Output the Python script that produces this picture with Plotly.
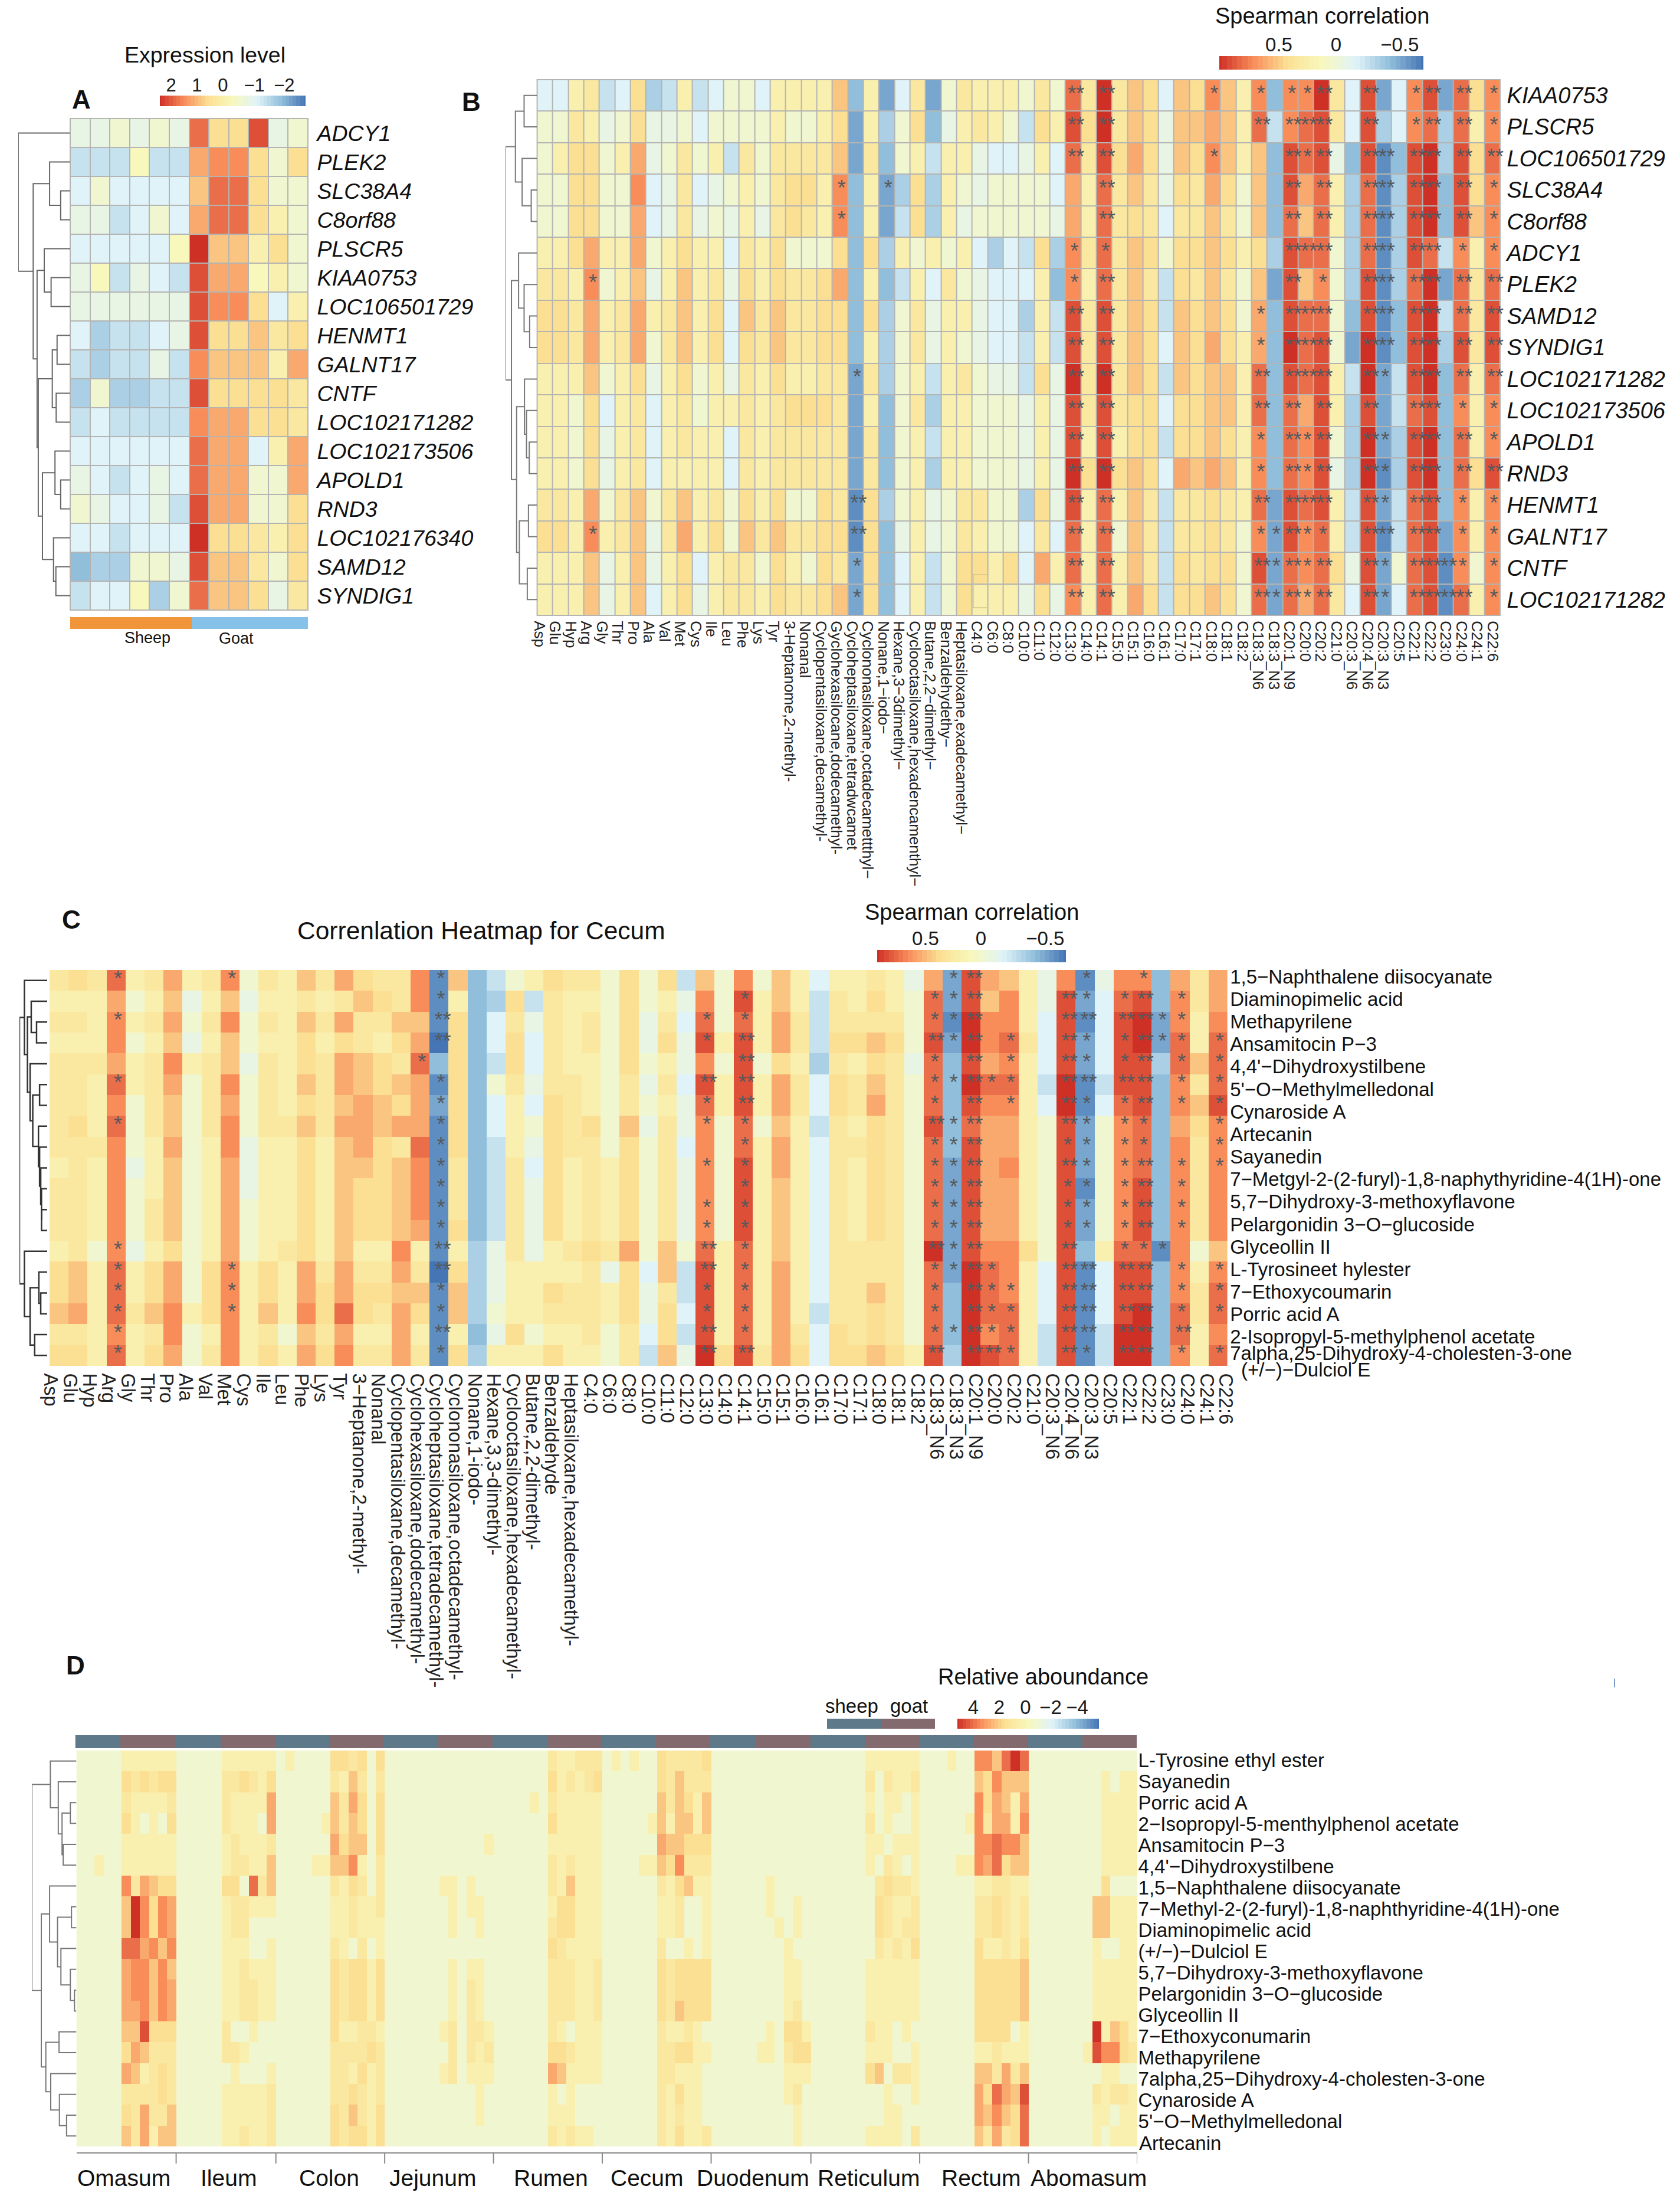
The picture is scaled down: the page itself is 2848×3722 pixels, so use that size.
import numpy as np
import plotly.graph_objects as go

W, H = 2848, 3722
FONT = "Liberation Sans"

# ---------- shared colour scale: cell strings hold digit 0-9 (warm) or a-i (cool, -1..-9)
COLORS = [[0, "#4575B4"], [1/6, "#91BFDB"], [2/6, "#E0F3F8"], [0.5, "#F8F8BC"],
          [4/6, "#FBE094"], [5/6, "#F88D5A"], [1, "#CF3026"]]

# ---------- Panel A
GENES_A = ["ADCY1", "PLEK2", "SLC38A4", "C8orf88", "PLSCR5", "KIAA0753", "LOC106501729", "HENMT1",
           "GALNT17", "CNTF", "LOC102171282", "LOC102173506", "APOLD1", "RND3", "LOC102176340",
           "SAMD12", "SYNDIG1"]
VALUES_A = ["bbabab7338ba", "ddd0dd5663a3", "cacccc4773aa", "bbdcac57731a", "ccccc094413a",
            "b0dbcd85501a", "bbbbbb8663c1", "ceddcb833423", "deddbd644415", "eaeedd833332",
            "dcdddd655332", "cccccc755c15", "bcdcbc755aa5", "abccbd855aa3", "ccdccc933213",
            "feeaab8442a3", "dcc0ea7443b2"]
SPECIES_A = [0, 1]
TREE_A = (174, 0, (124, (69, 1, (32, 2, 3)),
                   (111, (87, 4, (64, 5, 6)),
                    (107, (60, (44, 7, 8), (47, 9, 10)),
                     (93, (51, 11, (32, 12, 13)), (56, 14, (48, 15, 16)))))))

# ---------- Panel B
GENES_B = ["KIAA0753", "PLSCR5", "LOC106501729", "SLC38A4", "C8orf88", "ADCY1", "PLEK2", "SAMD12",
           "SYNDIG1", "LOC102171282", "LOC102173506", "APOLD1", "RND3", "HENMT1", "GALNT17", "CNTF",
           "LOC102171282"]
FATTY = ["C4:0", "C6:0", "C8:0", "C10:0", "C11:0", "C12:0", "C13:0", "C14:0", "C14:1", "C15:0", "C15:1",
         "C16:0", "C16:1", "C17:0", "C17:1", "C18:0", "C18:1", "C18:2", "C18:3_N6", "C18:3_N3", "C20:1_N9",
         "C20:0", "C20:2", "C21:0", "C20:3_N6", "C20:4_N6", "C20:3_N3", "C20:5", "C22:1", "C22:2", "C23:0",
         "C24:0", "C24:1", "C22:6"]
AMINO = ["Asp", "Glu", "Hyp", "Arg", "Gly", "Thr", "Pro", "Ala", "Val", "Met", "Cys", "Ile", "Leu", "Phe",
         "Lys", "Tyr"]
VOLATILE_B = ["3-Heptanome,2-methyl-", "Nonanal", "Cyclopentasiloxane,decamethyl-",
              "Gyclohexasilocane,dodecamethyl-", "Cycloheptasiloxane,tetradwcamet",
              "Cyclononasiloxane,octadecamettthyl−", "Nonane,1−iodo−", "Hexane,3−3dimethyl−",
              "Cyclooctasiloxane,hexadencamenthyl−", "Butane,2,2−dimethyl−", "Benzaldehydethy−",
              "Heptasiloxane,exadecamethyl−"]
COLS_B = AMINO + VOLATILE_B + FATTY
VALUES_B = [
    "cc12dc3ed1 dcaac11114 f1gc2ga211 1a2a 72924 3c436 416f6 692c8 gc68g 736",
    "aa21ba3bba caaaa1aa13 g1ea3fb121 ad31 83924 3b445 417d6 782c8 ec67e 716",
    "a133a15ba2 a1d2a22224 g2fa1d11bc cb1c 72835 3b436 414f8 78bf8 hf89e 837",
    "aa33aa6cb2 cba1a23316 f1ge3e1aba aaac 51724 2b325 3a4f8 571e7 he89f 836",
    "aa33aa5cb2 bab1b23216 f1gd3e1baa aaab 51723 2c224 2a4f7 471e7 he89f 846",
    "1135115a13 11c213aaa3 f3e1a1a1ce cd3e 62724 3a334 313e8 77ae7 he87d 616",
    "2216a14b14 12b3132235 f1fd1c2abc cc1f 61724 2d324 2a4g8 46ae8 he79g 727",
    "3325125124 13c4242233 f3ea2b11bc ce1d 82824 3d434 3a5f8 77af8 hf89d 728",
    "3325125a24 13c3242233 f1ea2b1abc cd1d 82824 3c435 315f9 78ag9 hf89e 828",
    "1114a13b13 a1b2131122 g2ea1d12ab bd3b 92924 3d434 417f8 781d9 gd89f 717",
    "11a3c12c12 a112123332 g1fa2e11aa ab1b 82823 3c334 417f7 581e8 gd78f 616",
    "11a3b12c12 11c2122222 g2fa1d11aa ab1b 81813 3d334 316f7 68ae9 ge89f 716",
    "11a3b12c11 11c2122222 g2fa1e11aa ab1b 93934 3c545 416f7 68be9 he89f 738",
    "2215a24a24 12a313aa32 h3ea1ba22a ae3b 81714 2d223 217g8 781d8 gd78f 616",
    "3316124b25 13a4242233 h3fb1ba21a ac2c 717a4 2d223 2a6g8 671d8 hd78g 616",
    "1114b14b13 c122a31a32 g3fc1da331 3c51 71714 2d323 3a8g7 673b8 ga78h 6a6",
    "1114b14c13 b122132234 g3fc1da311 1b3b 61715 3d334 3a7g7 572c8 gc78h 716",
]
STARS_LEFT_B = {3: {19: 1, 22: 1}, 4: {19: 1}, 6: {3: 1}, 9: {20: 1}, 13: {20: 2}, 14: {3: 1, 20: 2},
                15: {20: 1}, 16: {20: 1}}
STARS_RIGHT_B = [
    "2.2......1..1.112..2..12.2.1", "2.2.........2.222..2..12.2.1", "2.2......1....212..22.22.2.2",
    "..2...........2.2..22.22.2.1", "..2...........2.2..22.22.2.1", "1.1...........222..22.22.1.1",
    "1.2...........2.1..22.22.2.2", "2.2.........1.222..22.22.2.2", "2.2.........1.222..22.22.2.2",
    "2.2.........2.222..21.22.2.2", "2.2.........2.2.2..2..22.1.1", "2.2.........1.212..21.22.2.1",
    "2.2.........1.212..21.22.2.2", "2.2.........2.222..21.22.1.1", "2.2.........11211..22.22.1.1",
    "2.2.........21212..21.2221.1", "2.2.........21212..21.2222.1"]
TREE_B = (80, (55, (33, 0, 1), (38, 2, (15, 3, 4))),
          (65, (47, 5, (33, 6, (19, 7, 8))),
           (52, (32, 9, (27, 10, (20, 11, 12))),
            (45, (22, 13, 14), (25, 15, 16)))))

# ---------- Panel C
METAB_C = ["1,5−Naphthalene diisocyanate", "Diaminopimelic acid", "Methapyrilene", "Ansamitocin P−3",
           "4,4'−Dihydroxystilbene", "5'−O−Methylmelledonal", "Cynaroside A", "Artecanin", "Sayanedin",
           "7−Metgyl-2-(2-furyl)-1,8-naphythyridine-4(1H)-one", "5,7−Dihydroxy-3-methoxyflavone",
           "Pelargonidin 3−O−glucoside", "Glyceollin II", "L-Tyrosineet hylester", "7−Ethoxycoumarin",
           "Porric acid A", "2-Isopropyl-5-methylphenol acetate", "7alpha,25-Dihydroxy-4-cholesten-3-one",
           "(+/−)−Dulciol E"]
VOLATILE_C = ["3−Heptanone,2-methyl-", "Nonanal", "Cyclopentasiloxane,decamethyl-",
              "Cyclohexasiloxane,dodecamethyl-", "Cycloheptasiloxane,tetradecamethyl-",
              "Cyclononasiloxane,octadecamethyl-", "Nonane,1-iodo-", "Hexane,3,3-dimethyl-",
              "Cyclooctasiloxane,hexadecamethyl-", "Butane,2,2-dimethyl-", "Benzaldehyde",
              "Heptasiloxane,hexadecamethyl-"]
COLS_C = AMINO + VOLATILE_C + FATTY
VALUES_C = [
    "2327125126 a214253226 h4fda132 2a3a3d4a6a 41c1121b5g 8541b6hb66 f525",
    "1115a14b14 b112124326 h1fe3d21 1a3a1b6a81 41d2131a7g 8461b8gc78 f625",
    "2216125a26 a214252244 h3fc2b21 2a3b2c7a71 52d2222a7h 9661c8hc89 g616",
    "1116a14b14 a113132135 i3fc3c21 2a3b3b8181 52d3343a8g 9672c8gc89 g717",
    "2225126124 b213254327 f3fd3c21 1a3a1b6a8a 31e2132b7f 8561c8gc88 e747",
    "2217125a26 a214254345 h3fa2b22 1a2b2c8181 52c3242a7f 9771d9hd88 f627",
    "2216a24a25 a213245435 g3fc1c32 1a2a1b7181 52c3252a7f 8661c9hc78 f648",
    "2317a24a26 a224255455 h3fc1a32 3a4b2b6a7a 41d2132a8f 7551a8ga67 f536",
    "2226a15a16 b113145327 h3fd1b32 2a3a2c6a71 51c2232a7f 8551a8ga67 f626",
    "1216b14a15 b113144346 h2fd2c31 213a2b6a81 51c2132a7g 8561a8ga67 f626",
    "2216a14a15 b113143346 h2fd2b31 213a2b6a81 41c2132a7g 8551a8ha68 f626",
    "2216a24a15 a113143346 h2fd2b31 213a2b6a81 41c2132a7g 8551a8ga68 f626",
    "2216a24a15 a113143345 h3fd2b31 213a2b6a81 41c2132a7g 8551a8ga68 f626",
    "12a6b13a15 a123141161 h1eb2b12 325a4a7171 41c2222a9g 8663a8f177 h6a4",
    "3417135a36 1315252252 i3eb1111 2b3c4d8171 51c2222a7g 9761c8hc88 f616",
    "3417135a36 1315353344 h4eb1132 213b2d8171 51c2242a7f 9761c8hc88 f627",
    "4517246136 1416373253 h4ea1122 213b3c8171 51d2232a7f 9771c8hc89 f727",
    "2216126a16 12a4251151 h1fb3a11 2a2c3d8171 52c3232a7f 9671d8hd99 f716",
    "3317135a26 1315362252 h3e11131 1a2d4b9382 53c334318e 9871d8hd99 f617",
]
STARS_LEFT_C = {0: {3: 1, 9: 1, 20: 1}, 1: {20: 1}, 2: {3: 1, 20: 2}, 3: {20: 2}, 4: {19: 1},
                5: {3: 1, 20: 1}, 6: {20: 1}, 7: {3: 1, 20: 1}, 8: {20: 1}, 9: {20: 1}, 10: {20: 1},
                11: {20: 1}, 12: {20: 1}, 13: {3: 1, 20: 2}, 14: {3: 1, 9: 1, 20: 2},
                15: {3: 1, 9: 1, 20: 1}, 16: {3: 1, 9: 1, 20: 1}, 17: {3: 1, 20: 2}, 18: {3: 1, 20: 1}}
STARS_RIGHT_C = [
    ".............12.....1..1....", "..1.........112....21.12.1..", "1.1.........112....22.2211..",
    "1.2.........212.1..21.1211.1", "..2.........1.2.1..21.12.1.1", "2.2.........11211..22.22.1.1",
    "1.2.........1.2.1..21.12.1.1", "1.1.........212....21.11...1", "..1.........112....11.11...1",
    "1.1.........112....21.12.1.1", "..1.........112....11.12.1..", "1.1.........112....11.12.1..",
    "1.1.........112....11.12.1..", "2.1.........212....2..111...", "2.1.........1121...22.22.1.1",
    "1.1.........1.211..22.22.1.1", "1.1.........1.211..22.22.1.1", "2.1.........11211..22.22.2..",
    "2.2.........2.221..21.22.1.1"]
TREE_C = (73, (60, 0, (52, (42, 1, (28, 2, 3)),
                       (45, 4, (38, (20, 5, 6), (23, 7, (20, 8, (17, 9, (15, 10, (15, 11, 12))))))))),
          (60, 13, (45, (22, 14, (17, 15, 16)), (33, 17, 18))))
LABEL_PX_C = [1655, 1693, 1731, 1769, 1807, 1846, 1884, 1922, 1960, 1998, 2036, 2075, 2113, 2151, 2189,
              2227, 2265, 2293]

# ---------- Panel D
METAB_D = ["L-Tyrosine ethyl ester", "Sayanedin", "Porric acid A", "2−Isopropyl-5-menthylphenol acetate",
           "Ansamitocin P−3", "4,4'−Dihydroxystilbene", "1,5−Naphthalene diisocyanate",
           "7−Methyl-2-(2-furyl)-1,8-naphthyridine-4(1H)-one", "Diaminopimelic acid", "(+/−)−Dulciol E",
           "5,7−Dihydroxy-3-methoxyflavone", "Pelargonidin 3−O−glucoside", "Glyceollin II",
           "7−Ethoxyconumarin", "Methapyrilene", "7alpha,25−Dihydroxy-4-cholesten-3-one", "Cynaroside A",
           "5'−O−Methylmelledonal", "Artecanin"]
TISSUES = ["Omasum", "Ileum", "Colon", "Jejunum", "Rumen", "Cecum", "Duodenum", "Reticulum", "Rectum", "Abomasum"]
SAMPLES_SHEEP = [5, 5, 6, 6, 6, 6, 5, 6, 6, 6]
SAMPLES_GOAT = [6, 6, 6, 6, 6, 6, 6, 6, 6, 6]
VALUES_D = [
    "aaaaa 111111 aaaaa 111111 a1aaaa 332 3a3 aaaaaa aaaaaa aaaaaa 211222 a1a1aa 322223 aaaaa aaaaaa aaaaaa 111111 aaa1aa 664797 aaaaaa aaaaaa",
    "aaaaa 323233 aaaaa 223213 aaaaaa 214 2a2 aaaaaa aaaaaa aaaaaa 312123 aaaaaa 324222 aaaaa aaaaaa aaaaaa 2a2112 aaaaaa 436444 aaaaaa aa1a11",
    "aaaaa 211112 aaaaa 211115 aaaaaa 425 3a3 aaaaaa aaaaaa aaaa1a 211111 aaaaaa 424314 aaaaa aaaaaa aaaaaa 1a11a1 aaaaaa 635415 aaaaaa aa1111",
    "aaaaa 31a1a3 aaaaa 2111a5 aaaaa1 424 3a3 aaaaaa aaaaaa aaaaaa 311111 aaaaa1 414414 aaaaa aaaaaa aaaaaa 2a1aa1 aaaaa1 625516 aaaaaa aa1111",
    "aaaaa 111111 aaaaa 121112 aaaaaa 534 4a3 aaaaaa aaaaa1 aaaaaa 111111 aaaaaa 544333 aaaaa aaaaaa aaaaaa 11a111 aaaaaa 667664 aaaaaa aa1111",
    "aa1aa 111111 aaaaa 122114 aaaa11 446 1a2 aaaaaa aaaaaa aaaaaa 212111 aaaa11 436222 aaaaa aaaaaa aaaaaa 1a21a1 aaaa11 657344 aaaaaa aa1111",
    "aaaaa 625433 aaaaa 33a724 aaaaaa 213 2a2 aaaaaa 11a1aa aaaaaa 214111 aaaaaa 213411 aaaaa a1aaaa aaaaaa a23221 aaaaaa 112211 aaaaaa aa3aaa",
    "aaaaa 496365 aaaaa 122111 aaaaaa 112 112 aaaaaa a1a11a aaaaaa 133111 aaaaaa 112aa1 aaaaa a1aa1a aaaaaa a32112 aaaaaa 223212 aaaaaa a44111",
    "aaaaa 496365 aaaaa 122aaa aaaaaa 112 111 aaaaaa a1aa1a aaaaaa 233111 aaaaaa 112aa1 aaaaa aa1a1a aaaaaa a32122 aaaaaa 223212 aaaaaa a44111",
    "aaaaa 775646 aaaaa 111aa1 aaaaaa 21a 2a1 aaaaaa aaaaaa aaaaaa 321111 aaaaaa 2aa1a1 aaaaa aaa1aa aaaaaa a21213 aaaaaa 311213 aaaaaa a1aa11",
    "aaaaa 566464 aaaaa 112111 aaaaaa 323 313 aaaaaa a1a11a aaaaaa 222112 aaaaaa 323333 aaaaa aaa11a aaaaaa 111111 aaaaaa 333334 aaaaaa a11111",
    "aaaaa 566465 aaaaa 112211 aaaaaa 323 313 aaaaaa a1a21a aaaaaa 222112 aaaaaa 323333 aaaaa aaa11a aaaaaa 111111 aaaaaa 333334 aaaaaa a11111",
    "aaaaa 556465 aaaaa 112211 aaaaaa 323 313 aaaaaa a1a21a aaaaaa 222112 aaaaaa 324333 aaaaa aaa12a aaaaaa 111111 aaaaaa 333334 aaaaaa a11111",
    "aaaaa 448333 aaaaa 2aa1aa aaaaaa 311 221 aaaaaa 12a221 aaaaaa 21a111 aaaaaa 21121a aaaaa a1a331 aaaaaa 211a1a aaaaaa 3333a1 aaaaaa a91431",
    "aaaaa 354222 aaaaa 221aaa aaaaaa 222 232 aaaaaa a2a212 aaaaaa 332111 aaaaaa 223311 aaaaa 11a233 aaaaaa 111aa1 aaaaaa 112111 aaaaaa 186632",
    "aaaaa 541232 aaaaa a1aaa1 aaaaaa 221 312 aaaaaa 12a111 aaaaaa 541111 aaaaaa 22111a aaaaa aaa111 aaaaaa 34a221 aaaaaa 442524 aaaaaa aa11aa",
    "aaaaa 222232 aaaaa 111112 aaaaaa 223 212 aaaaaa aaaa1a aaaaaa 1a1aaa aaaaaa 21311a aaaaa aaa12a aaaaaa aa1aa1 aaaaaa 537548 aaaaaa a21221",
    "aaaaa 325224 aaaaa 111112 aaaaaa 324 213 aaaaaa aaaa1a aaaaaa 111aaa aaaaaa 21211a aaaaa aaaa1a aaaaaa aa11aa aaaaaa 546437 aaaaaa a11a11",
    "aaaaa 425144 aaaaa 112112 aaaaaa 323 313 aaaaaa aaaaaa aaaaaa 21211a aaaaaa 213112 aaaaa aaaa1a aaaaaa 1111a2 aaaaaa 425237 aaaaaa a1a111",
]
TREE_D = (118, (69, 0, (48, 1, (38, (16, 2, 3), (35, 4, 5)))),
          (93, (71, 6, (50, (13, 7, 8), (41, 9, (16, 10, (5, 11, 12))))),
           (81, (46, 13, 14), (68, 15, (45, 16, (26, 17, 18))))))
TISSUE_LABEL_PX = [210, 387, 558, 733, 934, 1097, 1276, 1472, 1663, 1845]


# ---------- helpers
def levels(row, n):
    txt = "".join(row.split())
    txt = txt.ljust(n, txt[-1])[:n]
    out = []
    for c in txt:
        out.append(float(c) if c.isdigit() else -(ord(c) - 96.0))
    return out


fig = go.Figure()
axes = {}
count = [0]


def new_axes(left, top, right, bottom, xopt=None, yopt=None):
    count[0] += 1
    s = "" if count[0] == 1 else str(count[0])
    base = dict(showgrid=False, zeroline=False, showticklabels=False, ticks="", showline=False, automargin=False)
    xa = dict(base, domain=[left / W, right / W], anchor="y" + s)
    ya = dict(base, domain=[1 - bottom / H, 1 - top / H], anchor="x" + s)
    xa.update(xopt or {})
    ya.update(yopt or {})
    axes["xaxis" + s] = xa
    axes["yaxis" + s] = ya
    return "x" + s, "y" + s


def tree_paths(tree):
    xs, ys = [], []

    def walk(node):
        if isinstance(node, int):
            return 0, node
        h, l, r = node
        hl, yl = walk(l)
        hr, yr = walk(r)
        xs.extend([hl, h, h, hr, None])
        ys.extend([yl, yl, yr, yr, None])
        return h, (yl + yr) / 2

    walk(tree)
    return xs, ys


def heat(z, xa, ya, gap=0):
    fig.add_trace(go.Heatmap(z=z, xaxis=xa, yaxis=ya, colorscale=COLORS, zmin=-9, zmax=9, showscale=False,
                             xgap=gap, ygap=gap, hoverinfo="skip"))


def dendro(tree, n, left, top, right, bottom, color, width):
    xa, ya = new_axes(left, top, right, bottom, dict(range=[tree[0], 0]), dict(range=[n - 0.5, -0.5]))
    xs, ys = tree_paths(tree)
    fig.add_trace(go.Scatter(x=xs, y=ys, mode="lines", line=dict(color=color, width=width), xaxis=xa, yaxis=ya,
                             showlegend=False, hoverinfo="skip", cliponaxis=False))


def colorbar(left, top, right, bottom, ticks, labels, size):
    xa, ya = new_axes(left, top, right, bottom,
                      dict(range=[0, 1], side="top", showticklabels=True, tickvals=ticks, ticktext=labels,
                           tickfont=dict(size=size, color="#1a1a1a", family=FONT), tickangle=0),
                      dict(range=[0, 1]))
    ramp = np.linspace(9, -9, 41)
    fig.add_trace(go.Heatmap(z=[ramp.tolist()], x=np.linspace(0, 1, 41).tolist(), y=[0.5], xaxis=xa, yaxis=ya,
                             colorscale=COLORS, zmin=-9, zmax=9, showscale=False, hoverinfo="skip"))


def stars(left_map, right_rows, n_rows, n_cols, xa, ya, size=36):
    xs, ys, txt = [], [], []
    off = n_cols - 28
    for r in range(n_rows):
        for c, k in left_map.get(r, {}).items():
            xs.append(c + (0.1 if k == 1 else 0.2))
            ys.append(r)
            txt.append("*" * k)
        for i, ch in enumerate(right_rows[r][:28]):
            if ch != ".":
                k = int(ch)
                xs.append(off + i + (0.1 if k == 1 else 0.2))
                ys.append(r)
                txt.append("*" * k)
    fig.add_trace(go.Scatter(x=xs, y=ys, text=txt, mode="text", xaxis=xa, yaxis=ya, showlegend=False,
                             textfont=dict(size=size, color="#55595c", family=FONT), textposition="middle center",
                             cliponaxis=False, hoverinfo="skip"))


shapes = []
annos = []


def label(text, x, y, size, bold=False, anchor="center"):
    annos.append(dict(text=("<b>%s</b>" % text) if bold else text, x=x / W, y=1 - y / H, xref="paper", yref="paper",
                      showarrow=False, xanchor=anchor, yanchor="middle",
                      font=dict(size=size, color="#111111", family=FONT)))


def grey_under(l, t, r, b):
    shapes.append(dict(type="rect", xref="paper", yref="paper", x0=l / W, x1=r / W, y0=1 - b / H, y1=1 - t / H,
                       fillcolor="#B4B4B2", line=dict(width=0), layer="below"))


# ---------- A
L, T, R, B = 119, 201, 522, 1034
grey_under(L - 1, T - 1, R + 1, B + 1)
xa, ya = new_axes(L, T, R, B, dict(range=[-0.5, 11.5]),
                  dict(range=[16.5, -0.5], side="right", showticklabels=True, tickvals=list(range(17)),
                       ticktext=GENES_A, ticks="outside", ticklen=7, tickcolor="rgba(0,0,0,0)",
                       tickfont=dict(size=37.5, family=FONT, color="#111111", style="italic")))
heat([levels(r, 12) for r in VALUES_A], xa, ya, gap=2)
dendro(TREE_A, 17, 31, T, L, B, "#666666", 2)
xa, ya = new_axes(L, 1046, R, 1066, dict(range=[-0.5, 11.5]), dict(range=[0, 1]))
fig.add_trace(go.Heatmap(z=[SPECIES_A], x=[-0.5, 5.64, 11.5], y=[0.5], xaxis=xa, yaxis=ya, showscale=False, zmin=0, zmax=1,
                         colorscale=[[0, "#F0953A"], [1, "#85C1E8"]], hoverinfo="skip"))
label("Sheep", 250, 1081, 27)
label("Goat", 400, 1082, 27)
colorbar(271, 162, 518, 180, [0.077, 0.255, 0.433, 0.648, 0.854], ["2", "1", "0", "−1", "−2"], 31)
label("Expression level", 347, 93, 37.5)
label("A", 138, 168, 44, bold=True)

# ---------- B
L, T, R, B = 910.6, 135, 2543, 1043
grey_under(L - 1, T - 1, R + 1, B + 1)
xa, ya = new_axes(L, T, R, B,
                  dict(range=[-0.5, 61.5], showticklabels=True, tickangle=90,
                       tickvals=[-0.36 + 1.006 * i for i in range(62)], ticktext=COLS_B, ticks="outside", ticklen=3,
                       tickcolor="rgba(0,0,0,0)", tickfont=dict(size=26, family=FONT, color="#222222")),
                  dict(range=[16.5, -0.5], side="right", showticklabels=True, tickvals=list(range(17)),
                       ticktext=GENES_B, ticks="outside", ticklen=3, tickcolor="rgba(0,0,0,0)",
                       tickfont=dict(size=38, family=FONT, color="#111111", style="italic")))
heat([levels(r, 62) for r in VALUES_B], xa, ya, gap=2)
stars(STARS_LEFT_B, STARS_RIGHT_B, 17, 62, xa, ya)
dendro(TREE_B, 17, 857, T, L, B, "#777777", 2)
colorbar(2067, 95, 2413, 118, [0.292, 0.572, 0.884], ["0.5", "0", "−0.5"], 33)
label("Spearman correlation", 2241, 27, 38)
label("B", 799, 173, 44, bold=True)
shapes.append(dict(type="rect", xref="paper", yref="paper", x0=1650 / W, x1=1674 / W, y0=1 - 1030 / H, y1=1 - 974 / H,
                   line=dict(color="#D8C48C", width=1.5), fillcolor="rgba(0,0,0,0)"))

# ---------- C
L, T, R, B = 84, 1644, 2080.6, 2315
row_c = (B - T) / 19
xa, ya = new_axes(L, T, R, B,
                  dict(range=[-0.5, 61.5], showticklabels=True, tickangle=90,
                       tickvals=[-0.44 + 1.014 * i for i in range(62)], ticktext=COLS_C, ticks="outside", ticklen=5,
                       tickcolor="rgba(0,0,0,0)", tickfont=dict(size=32.5, family=FONT, color="#222222")),
                  dict(range=[18.5, -0.5], side="right", showticklabels=True,
                       tickvals=[(p - T) / row_c - 0.5 for p in LABEL_PX_C], ticktext=METAB_C[:18], ticks="outside",
                       ticklen=2, ticklabelstandoff=-5, tickcolor="rgba(0,0,0,0)",
                       tickfont=dict(size=33, family=FONT, color="#111111")))
heat([levels(r, 62) for r in VALUES_C], xa, ya)
stars(STARS_LEFT_C, STARS_RIGHT_C, 19, 62, xa, ya)
dendro(TREE_C, 19, 33, T, 80, B, "#333333", 2.5)
colorbar(1487, 1610, 1807, 1631, [0.256, 0.55, 0.89], ["0.5", "0", "−0.5"], 33)
label("Spearman correlation", 1647, 1546, 38)
label("Correnlation Heatmap for Cecum", 816, 1577, 42.5)
label("C", 121, 1559, 44, bold=True)
label(METAB_C[18], 2102, 2321, 33, anchor="left")

# ---------- D
L, T, R, B = 129.5, 2967, 1928, 3638
row_d = (B - T) / 19
n_d = sum(SAMPLES_SHEEP) + sum(SAMPLES_GOAT)
xa, ya = new_axes(L, T, R, B, dict(range=[-0.5, n_d - 0.5]),
                  dict(range=[18.5, -0.5], side="right", showticklabels=True,
                       tickvals=[(2983 + 36.05 * i - T) / row_d - 0.5 for i in range(18)], ticktext=METAB_D[:18],
                       ticks="outside", ticklen=1, ticklabelstandoff=-7, tickcolor="rgba(0,0,0,0)",
                       tickfont=dict(size=33, family=FONT, color="#111111")))
heat([levels(r, n_d) for r in VALUES_D], xa, ya)
label(METAB_D[18], 1929, 3632, 33, anchor="left")
dendro(TREE_D, 19, 54, T, L, B, "#777777", 2)
species = []
for s, g in zip(SAMPLES_SHEEP, SAMPLES_GOAT):
    species += [0] * s + [1] * g
xa, ya = new_axes(127.5, 2941, 1927, 2963, dict(range=[-0.5, n_d - 0.5]), dict(range=[0, 1]))
fig.add_trace(go.Heatmap(z=[species], y=[0.5], xaxis=xa, yaxis=ya, showscale=False, zmin=0, zmax=1,
                         colorscale=[[0, "#5E7A8A"], [1, "#826A6E"]], hoverinfo="skip"))
xa, ya = new_axes(1402, 2913, 1585, 2930, dict(range=[-0.5, 1.5]), dict(range=[0, 1]))
fig.add_trace(go.Heatmap(z=[[0, 1]], y=[0.5], xaxis=xa, yaxis=ya, showscale=False, zmin=0, zmax=1,
                         colorscale=[[0, "#5E7A8A"], [1, "#826A6E"]], hoverinfo="skip"))
label("sheep", 1444, 2891, 33)
label("goat", 1541, 2891, 33)
colorbar(1623, 2913, 1863, 2930, [0.1125, 0.296, 0.481, 0.658, 0.846], ["4", "2", "0", "−2", "−4"], 33)
label("Relative aboundance", 1768, 2842, 38)
label("D", 128, 2822, 44, bold=True)
# tissue axis
ends = np.cumsum(np.array(SAMPLES_SHEEP) + np.array(SAMPLES_GOAT)) - 0.5
xa, ya = new_axes(L, 3650, R, 3667,
                  dict(range=[-0.5, n_d - 0.5], side="top", showline=True, linecolor="#8a8a8a", linewidth=2),
                  dict(range=[1, 0]))
fig.add_trace(go.Scatter(x=[v for e in ends for v in (e, e, None)], y=[w for _ in ends for w in (0, 1, None)],
                         mode="lines", line=dict(color="#8a8a8a", width=2), xaxis=xa, yaxis=ya, showlegend=False,
                         hoverinfo="skip", cliponaxis=False))
for name, px in zip(TISSUES, TISSUE_LABEL_PX):
    label(name, px, 3691, 39)
shapes.append(dict(type="line", xref="paper", yref="paper", x0=2737 / W, x1=2737 / W, y0=1 - 2860 / H, y1=1 - 2845 / H,
                   line=dict(color="#7B9CC6", width=2)))

fig.update_layout(width=W, height=H, margin=dict(l=0, r=0, t=0, b=0, autoexpand=False), paper_bgcolor="white",
                  plot_bgcolor="rgba(0,0,0,0)", showlegend=False, shapes=shapes, annotations=annos,
                  font=dict(family=FONT), **axes)
fig.write_html("out.html", post_script="document.body.style.margin='0';", config=dict(displayModeBar=False))
